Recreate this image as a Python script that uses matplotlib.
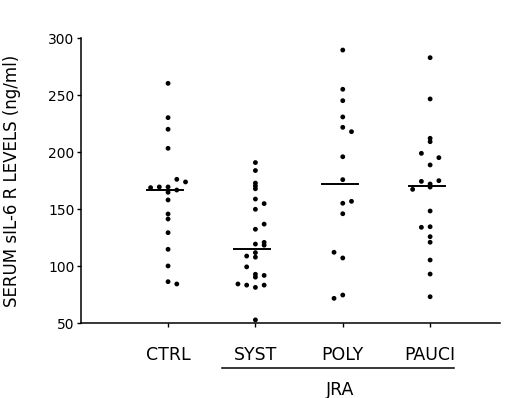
import numpy as np
import matplotlib
matplotlib.use("Agg")
from matplotlib import pyplot as plt
from matplotlib import transforms

# values (ng/ml)
categories = ['CTRL', 'SYST', 'POLY', 'PAUCI']

ctrl = [260.5, 230.4, 220.2, 203.5, 176.3, 174.0, 169.0, 169.6, 169.6, 166.9,
        164.9, 158.2, 145.9, 141.5, 129.5, 114.9, 100.3, 86.5, 84.5]
syst = [191.0, 184.0, 173.0, 170.5, 168.0, 159.0, 155.0, 150.0, 137.0, 132.5,
        119.5, 121.0, 118.5, 112.0, 109.0, 108.0, 99.5, 93.0, 92.0, 90.5,
        84.5, 83.5, 81.5, 83.5, 53.0]
poly = [289.7, 255.3, 245.3, 231.0, 221.9, 218.1, 196.1, 176.0, 155.3, 157.0,
        146.1, 112.3, 107.3, 71.9, 74.8]
pauci = [283.0, 246.8, 212.3, 209.3, 199.1, 195.3, 188.9, 174.5, 175.1, 172.2,
         169.5, 167.5, 148.5, 134.2, 134.7, 126.0, 121.1, 105.5, 93.2, 73.3]

# side-by-side slot of each dot (in dot widths) where points overlap
ctrl_slot = [0, 0, 0, 0, 1, 2, -2, -1, 0, 1, 0, 0, 0, 0, 0, 0, 0, 0, 1]
syst_slot = [0, 0, 0, 0, 0, 0, 1, 0, 1, 0, 0, 1, 1, 0, -1, 0, -1, 0, 1, 0,
             -2, -1, 0, 1, 0]
poly_slot = [0, 0, 0, 0, 0, 1, 0, 0, 0, 1, 0, -1, 0, -1, 0]
pauci_slot = [0, 0, 0, 0, -1, 1, 0, -1, 1, 0, 0, -2, 0, -1, 0, 0, 0, 0, 0, 0]

medians = [167.0, 115.0, 172.5, 170.5]

groups = [ctrl, syst, poly, pauci]
slots = [ctrl_slot, syst_slot, poly_slot, pauci_slot]

W, H = 506, 398
fig = plt.figure(figsize=(W/100, H/100), dpi=100)
ax = fig.add_axes([80.7/W, 74.7/H, 419.3/W, 285/H])

step = 0.1
for i, (vals, sl) in enumerate(zip(groups, slots)):
    pos = i + 1
    x = pos + step*np.array(sl)
    ax.scatter(x, vals, s=12, c='black', edgecolors='none', clip_on=False, zorder=3)
    ax.plot([pos-0.24, pos+0.17], [medians[i], medians[i]], color='black', lw=1.4)

ax.set_xlim(0, 4.8)
ax.set_ylim(50, 300)
ax.set_yticks([50, 100, 150, 200, 250, 300])
ax.set_xticks([1, 2, 3, 4])
ax.set_xticklabels(categories)

for s in ['top', 'right']:
    ax.spines[s].set_visible(False)
for s in ['left', 'bottom']:
    ax.spines[s].set_linewidth(1.1)

ax.tick_params(axis='y', direction='out', length=3, width=1, pad=1.5, labelsize=10)
ax.tick_params(axis='x', direction='out', length=3, width=1, pad=13, labelsize=12.5)

ax.set_ylabel('SERUM sIL-6 R LEVELS (ng/ml)', fontsize=12)
ax.yaxis.set_label_coords(-0.143, 0.5)

# JRA bracket under the three patient groups
trans = transforms.blended_transform_factory(ax.transData, ax.transAxes)
ax.plot([1.62, 4.27], [-0.157, -0.157], color='black', lw=1.1,
        transform=trans, clip_on=False)
ax.text(2.97, -0.234, 'JRA', transform=trans, ha='center', va='center', fontsize=12.5)

plt.savefig('out.png', dpi=100)
